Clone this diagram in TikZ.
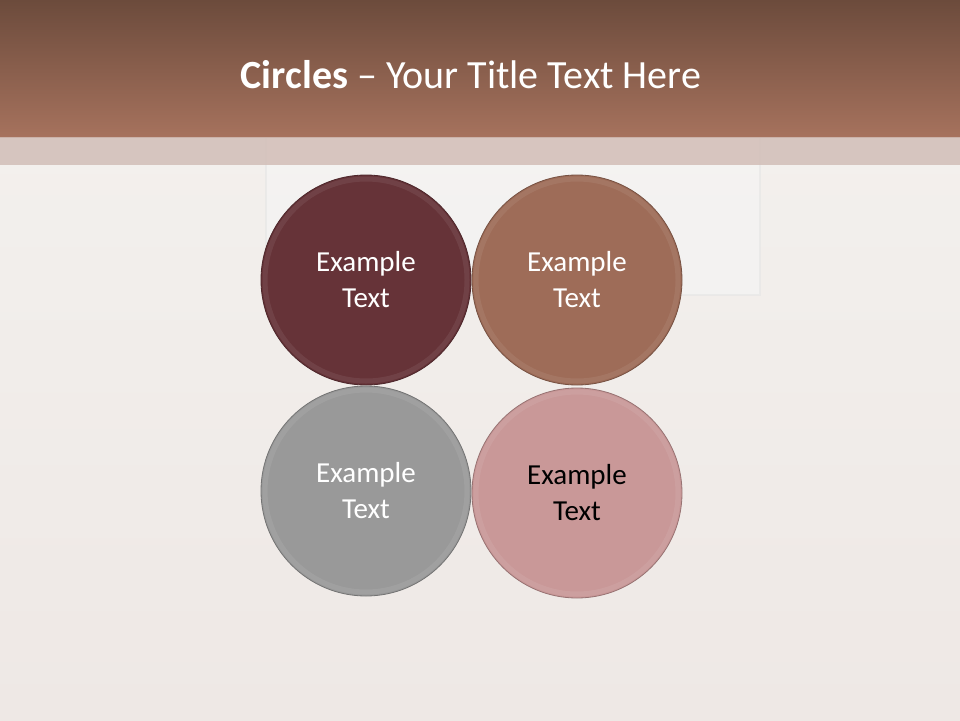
\documentclass[tikz,border=0pt]{standalone}
\usepackage{fontspec}
\setmainfont{Carlito}
\usetikzlibrary{positioning}
\definecolor{tbtop}  {RGB}{108, 75, 60}
\definecolor{tbbot}  {RGB}{166,114, 93}
\definecolor{tband}  {RGB}{210,190,183}
\definecolor{bgpap}  {RGB}{243,240,237}
\definecolor{bglow}  {RGB}{238,232,229}
\definecolor{cmaro}  {RGB}{102, 51, 56}
\definecolor{cbrwn}  {RGB}{158,108, 88}
\definecolor{cgray}  {RGB}{153,153,153}
\definecolor{cpink}  {RGB}{201,152,152}
\tikzset{
  % round text button
  CB/.style={circle,minimum size=210pt,inner sep=0pt,fill=#1,
             draw=#1!75!black,line width=0.8pt,align=center,
             font=\fontsize{29}{36}\selectfont,text=white},
  CB/.default=cgray,
  % soft bevel ring inside a button
  Rim/.style={draw=white,opacity=0.07,line width=5pt},
}
\begin{document}
\begin{tikzpicture}[x=1pt,y=-1pt]
  % page and background
  \useasboundingbox (0,0) rectangle (960,720);
  \shade[top color=bgpap,bottom color=bglow] (0,137) rectangle (960,720);
  \draw[white!90!black,line width=1.5pt,fill=white!96!black,opacity=0.6]
       (266,137) rectangle (760,295);
  % title bar
  \shade[top color=tbtop,bottom color=tbbot] (0,0) rectangle (960,137);
  \fill[tband,opacity=0.85] (0,137) rectangle (960,165);
  \node[text=white,font=\fontsize{40}{46}\selectfont] (title) at (471,75)
       {\textbf{Circles} -- Your Title Text Here};
  % circles
  \node[CB=cmaro] (c1) at (366,280) {Example\\Text};
  \node[CB=cbrwn] (c2) at (577,280) {Example\\Text};
  \node[CB=cgray] (c3) at (366,491) {Example\\Text};
  \node[CB=cpink,text=black] (c4) at (577,493) {Example\\Text};
  \foreach \c in {c1,c2,c3,c4}
    \draw[Rim] (\c.center) circle (101pt);
\end{tikzpicture}
\end{document}
